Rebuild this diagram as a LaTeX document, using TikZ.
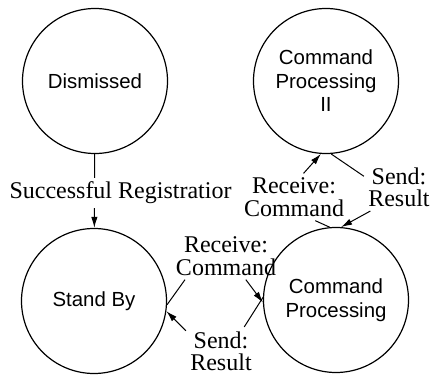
\documentclass[tikz,border=0pt]{standalone}
\usepackage{fontspec}
\setmainfont{Liberation Serif}
\setsansfont{Liberation Sans}
\usetikzlibrary{arrows.meta}

\begin{document}
\begin{tikzpicture}[
    x=0.5pt, y=-0.5pt,
    state/.style={circle, draw, line width=0.6pt, minimum size=72.5pt, inner sep=0pt, align=center, font=\sffamily\fontsize{10.2}{11.8}\selectfont},
    arrow/.style={-{Latex[length=5.5pt, width=3.2pt]}, line width=0.5pt},
    tlabel/.style={align=center, inner sep=2pt, font=\fontsize{12}{11.2}\selectfont}
]
\useasboundingbox (0,0) rectangle (436,376);

% States
\node[state] (dis) at (95,81) {Dismissed};
\node[state] (cp2) at (326,81) {Command\\Processing\\II};
\node[state] (sb) at (94,301) {Stand By};
\node[state] (cp) at (336,300) {Command\\Processing};

% Transition labels
\node[tlabel] (rc2) at (294,197) {Receive:\\Command};
\node[tlabel] (sr2) at (399,187) {Send:\\Result};
\node[tlabel] (rc1) at (226,256) {Receive:\\Command};
\node[tlabel] (sr1) at (221,351) {Send:\\Result};

% Registration
\draw[arrow] (dis) -- (sb)
    node[tlabel, fill=white, midway, xshift=13pt, yshift=-1pt] (reg) {Successful Registratior};

% Stand By <-> Command Processing
\draw[arrow] (sb.-3) -- (rc1.210) (rc1.-50) -- (cp.182);
\draw[arrow] (cp.178) -- (sr1.46) (sr1.150) -- (sb.-8);

% Command Processing <-> Command Processing II
\draw[arrow] (cp.95) -- (rc2.-48) (rc2.68) -- (cp2.266);
\draw[arrow] (cp2.274) -- (sr2.163) (sr2.220) -- (cp.86);

\end{tikzpicture}
\end{document}
